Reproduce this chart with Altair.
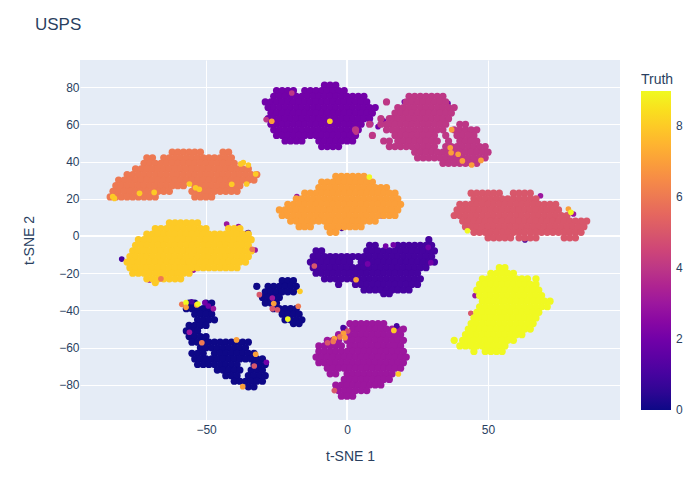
import altair as alt
import pandas as pd

PLASMA = ["#0d0887", "#46039f", "#7201a8", "#9c179e", "#bd3786",
          "#d8576b", "#ed7953", "#fb9f3a", "#fdca26", "#f0f921"]
INK = "#2a3f5f"
FONT = "Liberation Sans"
X_TICKS = [-50, 0, 50]
Y_TICKS = [-80, -60, -40, -20, 0, 20, 40, 60, 80]
LEGEND_TICKS = [0, 2, 4, 6, 8]

# (y, [x, ...]) rows, one list per digit cluster
digit_0a = [
    (-36, [-56, -54, -50, -48]), (-39, [-57, -55, -53, -51, -49]), (-42, [-54, -52, -50, -48]),
    (-45, [-53, -51, -49, -47]), (-48, [-56, -54, -52, -50]), (-51, [-57, -55, -53]),
    (-54, [-56, -54, -52, -50]),
    (-57, [-55, -53, -51, -49, -47, -45, -43, -41, -39, -37, -35]),
    (-60, [-52, -50, -48, -46, -44, -42, -40, -38, -36]),
    (-63, [-55, -53, -51, -47, -45, -43, -41, -39, -37, -35, -33]),
    (-66, [-54, -52, -50, -48, -46, -44, -42, -40, -38, -36, -34, -32, -30]),
    (-69, [-53, -51, -49, -47, -45, -43, -41, -39, -33, -31, -29]),
    (-72, [-46, -44, -42, -40, -38, -34, -32, -30]),
    (-75, [-43, -41, -39, -35, -33, -31, -29]),
    (-78, [-40, -38, -36, -34, -32, -30]),
    (-81, [-35, -33]),
]
digit_0b = [
    (-24, [-23, -21, -19]),
    (-27, [-32, -28, -26, -24, -22, -20, -18]),
    (-30, [-29, -27, -25, -23, -21, -19]),
    (-33, [-30, -28, -26, -24]),
    (-36, [-29, -27, -25]),
    (-39, [-26, -24, -22, -20, -18]),
    (-42, [-23, -21, -19, -17]),
    (-45, [-22, -20, -18, -16]),
    (-47, [-19, -17]),
]
digit_1 = [
    (-2, [29]),
    (-5, [8, 10, 18, 20, 22, 24, 26, 28, 30]),
    (-8, [-11, -9, 7, 9, 11, 13, 15, 17, 19, 21, 23, 25, 27, 29, 31]),
    (-11, [-12, -10, -8, -6, -4, -2, 0, 2, 4, 6, 8, 10, 12, 14, 16, 18, 20, 22, 24, 26, 28, 30]),
    (-14, [-13, -11, -9, -7, -5, -3, -1, 1, 5, 7, 9, 11, 13, 15, 17, 19, 21, 23, 25, 27, 29, 31]),
    (-17, [-12, -10, -8, -6, -4, -2, 0, 2, 4, 6, 8, 10, 12, 14, 16, 18, 20, 22, 24, 26, 28]),
    (-20, [-11, -9, -7, -5, -3, -1, 1, 3, 5, 7, 9, 11, 13, 15, 17, 19, 21, 23, 25]),
    (-23, [-8, -6, -4, -2, 0, 2, 4, 6, 8, 10, 12, 14, 16, 18, 20, 22, 24, 26]),
    (-26, [-3, 3, 5, 7, 9, 11, 13, 15, 17, 19, 21, 23, 25]),
    (-29, [6, 8, 10, 12, 14, 16, 18, 20, 22]),
    (-31, [13, 15]),
]
digit_2 = [
    (81, [-8, -6, -4]),
    (78, [-25, -23, -21, -19, -15, -13, -11, -9, -7, -5, -3, -1]),
    (75, [-26, -24, -22, -20, -18, -16, -14, -12, -10, -8, -6, -4, -2, 0, 2, 4, 6]),
    (72, [-29, -27, -25, -23, -21, -19, -17, -15, -13, -11, -9, -7, -5, -3, -1, 1, 3, 5, 7]),
    (69, [-28, -26, -24, -22, -20, -18, -16, -14, -12, -10, -8, -6, -4, -2, 0, 2, 4, 6, 8, 10]),
    (66, [-27, -25, -23, -21, -19, -17, -15, -13, -11, -9, -7, -5, -3, -1, 1, 3, 5, 7, 9]),
    (63, [-28, -26, -24, -22, -20, -18, -16, -14, -12, -10, -8, -6, -4, -2, 0, 2, 4, 6, 8]),
    (60, [-27, -25, -23, -21, -19, -17, -15, -13, -11, -9, -7, -5, -3, -1, 1, 3, 5]),
    (57, [-26, -24, -22, -20, -18, -16, -14, -12, -10, -8, -6, -4, -2, 0, 2, 4]),
    (54, [-25, -23, -21, -19, -17, -15, -13, -11, -9, -7, -5, -3, -1, 1, 3]),
    (51, [-22, -20, -18, -16, -10, -8, -6, -4, -2, 0, 2]),
    (48, [-9, -7, -5, -3]),
]
digit_3 = [
    (-47, [1, 3, 5, 7, 9, 11, 13]),
    (-50, [-1, 2, 4, 6, 8, 10, 12, 14, 16, 18, 20]),
    (-53, [-3, 1, 3, 5, 7, 9, 11, 13, 15, 17, 19]),
    (-56, [-7, -5, -3, 0, 2, 4, 6, 8, 10, 12, 14, 16, 18, 20]),
    (-59, [-10, -8, -6, -4, -2, 1, 3, 5, 7, 9, 11, 13, 15, 17, 19]),
    (-62, [-10, -8, -6, -4, -2, 0, 2, 4, 6, 8, 10, 12, 14, 16, 18, 20]),
    (-65, [-11, -9, -7, -5, -3, -1, 1, 3, 5, 7, 9, 11, 13, 15, 17, 19, 21]),
    (-68, [-10, -8, -6, -4, -2, 0, 2, 4, 6, 8, 10, 12, 14, 16, 18, 20]),
    (-71, [-7, -5, -3, -1, 1, 3, 5, 7, 9, 11, 13, 15, 17, 19]),
    (-74, [-6, -4, 0, 2, 4, 6, 8, 10, 12, 14, 16]),
    (-77, [-1, 1, 3, 5, 7, 9, 11, 13, 15]),
    (-80, [-4, -2, 0, 2, 4, 6, 8, 10, 12]),
    (-83, [-3, -1, 1, 3, 5, 7]),
    (-86, [-2, 0, 2]),
]
digit_4 = [
    (75, [22, 24, 26, 28, 30, 32, 34]),
    (72, [14, 21, 23, 25, 27, 29, 31, 33, 35]),
    (69, [18, 20, 22, 24, 26, 28, 30, 32, 34, 36, 38]),
    (66, [17, 19, 21, 23, 25, 27, 29, 31, 33, 35, 37]),
    (63, [12, 15, 16, 18, 20, 22, 24, 26, 28, 30, 32, 34, 36]),
    (60, [8, 12, 14, 15, 17, 19, 21, 23, 25, 27, 29, 31, 33, 35, 40, 42]),
    (57, [3, 14, 16, 18, 20, 22, 24, 26, 28, 30, 32, 34, 38, 40, 42, 44, 46]),
    (54, [9, 17, 19, 21, 23, 25, 27, 29, 31, 35, 39, 41, 43, 45]),
    (51, [13, 15, 18, 20, 22, 24, 26, 28, 30, 32, 36, 40, 42, 44, 46]),
    (48, [15, 17, 19, 21, 23, 25, 27, 29, 31, 35, 37, 39, 41, 43, 45, 47, 49]),
    (45, [24, 26, 28, 30, 32, 34, 36, 38, 40, 42, 44, 46, 48, 50]),
    (42, [25, 27, 29, 31, 33, 35, 37, 39, 41, 43, 45, 47, 49]),
    (39, [34, 36, 38, 40, 42, 44, 46]),
]
digit_5 = [
    (23, [44, 46, 48, 50, 52, 54, 59, 61, 63, 65]),
    (20, [45, 47, 49, 51, 53, 55, 57, 59, 61, 63, 65, 67]),
    (17, [40, 42, 44, 46, 48, 50, 52, 54, 56, 58, 60, 62, 64, 66, 68, 70, 72, 74]),
    (14, [39, 41, 43, 45, 47, 49, 51, 53, 55, 57, 59, 61, 63, 65, 67, 69, 71, 73, 75]),
    (11, [38, 40, 42, 44, 46, 48, 50, 52, 54, 56, 58, 60, 62, 64, 66, 68, 70, 72, 74, 76, 78]),
    (8, [41, 43, 45, 47, 49, 51, 53, 55, 57, 59, 61, 63, 65, 67, 69, 71, 73, 75, 77, 79, 81, 83, 85]),
    (5, [42, 44, 46, 48, 50, 52, 54, 56, 58, 60, 62, 64, 66, 68, 70, 72, 74, 76, 78, 80, 82, 84]),
    (2, [45, 47, 49, 51, 53, 55, 57, 59, 61, 63, 65, 67, 69, 71, 73, 75, 77, 79, 81, 83]),
    (-1, [50, 52, 54, 56, 58, 61, 63, 65, 67, 77, 79, 81]),
]
digit_6 = [
    (45, [-62, -60, -58, -56, -54, -52, -44, -42]),
    (42, [-71, -69, -65, -63, -61, -59, -57, -55, -53, -51, -49, -47, -45, -43, -41]),
    (39, [-72, -70, -68, -66, -64, -62, -60, -58, -56, -54, -52, -50, -48, -46, -44, -42, -40]),
    (36, [-75, -73, -71, -69, -67, -65, -63, -61, -59, -57, -55, -53, -51, -49, -47, -45, -43, -41, -39, -37, -35]),
    (33, [-78, -76, -74, -72, -70, -68, -66, -64, -62, -60, -58, -56, -54, -52, -50, -48, -46, -44, -42, -40, -38, -36, -34, -32]),
    (30, [-81, -79, -77, -75, -73, -71, -69, -67, -65, -63, -61, -59, -57, -55, -53, -51, -49, -47, -45, -43, -41, -39, -37, -35, -33]),
    (27, [-82, -80, -78, -76, -74, -72, -70, -68, -66, -64, -62, -60, -58, -54, -52, -50, -48, -46, -44, -42, -40, -38]),
    (24, [-83, -81, -79, -77, -75, -73, -71, -69, -67, -65, -63, -55, -53, -51, -49, -47, -45, -43, -41, -39]),
    (21, [-84, -82, -80, -78, -76, -74, -72, -70, -68, -54, -52, -50, -48]),
]
digit_7 = [
    (32, [-4, -2, 0, 2, 4, 6]),
    (29, [-9, -7, -5, -3, -1, 1, 3, 5, 7, 9]),
    (26, [-10, -8, -6, -4, -2, 0, 2, 4, 6, 8, 10, 12, 14]),
    (23, [-15, -13, -11, -9, -7, -5, -3, -1, 1, 3, 5, 7, 9, 11, 13, 15, 17]),
    (20, [-18, -16, -14, -12, -10, -8, -6, -4, -2, 0, 2, 4, 6, 8, 10, 12, 14, 16, 18]),
    (17, [-21, -19, -17, -15, -13, -11, -9, -7, -5, -3, -1, 1, 3, 5, 7, 9, 11, 13, 15, 17, 19]),
    (14, [-24, -22, -20, -18, -16, -14, -12, -10, -8, -6, -4, -2, 0, 2, 4, 6, 8, 10, 12, 14, 16, 18]),
    (11, [-23, -21, -19, -17, -15, -13, -11, -9, -7, -5, -3, -1, 1, 3, 5, 7, 9, 11, 13, 15, 17]),
    (8, [-20, -18, -16, -14, -12, -10, -8, -6, -4, -2, 0, 2, 4, 6, 8, 10]),
    (5, [-17, -15, -13, -7, -5, -3, -1, 1, 3, 5]),
    (2, [-6, -4]),
]
digit_8 = [
    (7, [-63, -61, -59, -57, -55, -53]),
    (4, [-68, -66, -64, -62, -60, -58, -56, -54, -52, -50, -42, -40, -38]),
    (1, [-71, -69, -67, -65, -63, -61, -59, -57, -55, -53, -51, -49, -47, -45, -43, -41, -39, -37, -35]),
    (-2, [-74, -72, -70, -68, -66, -64, -62, -60, -58, -56, -54, -52, -50, -48, -46, -44, -42, -40, -38, -36, -34]),
    (-5, [-75, -73, -71, -69, -67, -65, -63, -61, -59, -57, -55, -53, -51, -49, -47, -45, -43, -41, -39, -37, -35]),
    (-8, [-76, -74, -72, -70, -68, -66, -64, -62, -60, -58, -56, -54, -52, -50, -48, -46, -44, -42, -40, -38, -36, -34]),
    (-11, [-77, -75, -73, -71, -69, -67, -65, -63, -61, -59, -57, -55, -53, -51, -49, -47, -45, -43, -41, -39, -37, -35]),
    (-14, [-78, -76, -74, -72, -70, -68, -66, -64, -62, -60, -58, -56, -54, -52, -50, -48, -46, -44, -42, -40, -38, -36]),
    (-17, [-77, -75, -73, -71, -69, -67, -65, -63, -61, -59, -57, -55, -53, -51, -49, -47, -45, -43, -41, -39]),
    (-20, [-76, -74, -72, -70, -68, -66, -64, -62, -60, -58, -56]),
    (-23, [-71, -69, -67, -65, -63, -61, -59]),
    (-25, [-68]),
]
digit_9 = [
    (-17, [54, 56]),
    (-20, [51, 53, 55, 57, 59]),
    (-23, [48, 50, 52, 54, 56, 58, 60, 62, 64, 67]),
    (-26, [47, 49, 51, 53, 55, 57, 59, 61, 63, 65, 67]),
    (-29, [46, 48, 50, 52, 54, 56, 58, 60, 62, 64, 66, 68]),
    (-32, [47, 49, 51, 53, 55, 57, 59, 61, 63, 65, 67, 69]),
    (-35, [48, 50, 52, 54, 56, 58, 60, 62, 64, 66, 68, 70, 72]),
    (-38, [47, 49, 51, 53, 55, 57, 59, 61, 63, 65, 67, 69, 71]),
    (-41, [46, 48, 50, 52, 54, 56, 58, 60, 62, 64, 66, 68]),
    (-44, [45, 47, 49, 51, 53, 55, 57, 59, 61, 63, 65, 67]),
    (-47, [44, 46, 48, 50, 52, 54, 56, 58, 60, 62, 64, 66]),
    (-50, [43, 45, 47, 49, 51, 53, 55, 57, 59, 61, 63, 65]),
    (-53, [42, 44, 46, 48, 50, 52, 54, 56, 58, 60, 62]),
    (-56, [38, 41, 43, 45, 47, 49, 51, 53, 55, 57, 59]),
    (-59, [40, 42, 44, 46, 48, 50, 52, 54, 56]),
    (-62, [45, 49, 51, 53, 55]),
]

# stray points: x, y, truth. Those in under_* sit beneath the clusters
under_x = [35.8, 20.3, 12.9, 11.0, 68.6, 80.3, 63.1, 15.8, 12.3, -17.8, -1.9, -42.7, -38.5, -35.0, -79.9,
           -56.6, -54.5, -70.1, -32.6, -35.6, 45.4, 43.9, 8.4]
under_y = [71.2, 72.1, 61.9, 58.7, 21.6, 11.8, -2.1, 13.4, 10.9, 21.1, 4.1, 6.4, 5.0, 1.8, -12.4,
           -14.3, -18.3, -23.6, -7.5, 1.4, -32.0, -41.5, 60.2]
under_t = [2, 2, 2, 2, 3, 3, 1, 2, 2, 3, 1, 3, 3, 1, 1,
           3, 3, 3, 3, 1, 3, 5, 2]

stray_x = [-83.1, -82.5, -73.6, -68.4, -55.9, -53.7, -52.4, -40.9, -35.6, -32.4, -37.7, -36.8, -35.0,
           -19.6, -28.7, -26.7, -6.1, 3.2,
           37.1, 36.6, 36.9, 39.4, 40.9, 44.2, 47.5,
           78.5, 79.4, 42.7, 7.9, -66.0, -33.6,
           -58.6, -57.1, -57.1, -55.1, -53.3, -52.9, -50.4, -49.2, -47.4, -55.9, -51.5, -39.2, -32.4, -28.6, -32.9, -37.0,
           -31.1, -26.5, -26.0, -26.5, -24.7, -16.7, -17.3, -21.0,
           -11.6, 3.2, 7.3, 13.7, 16.4, 28.8, 29.7,
           -1.4, 0.2, -1.3, -2.5, -0.7, -4.5, -4.9, -6.9, -4.5, 17.6, 16.6, 18.2]
stray_y = [21.1, 20.2, 22.9, 23.4, 27.9, 25.9, 25.1, 27.8, 27.9, 33.3, 38.7, 39.4, 38.1,
           76.8, 62.5, 61.6, 61.6, 55.8,
           57.1, 47.4, 44.7, 43.9, 40.3, 38.1, 40.6,
           14.5, 12.7, 2.8, 31.7, -23.0, -7.1,
           -36.7, -35.8, -38.3, -35.3, -37.0, -36.5, -35.8, -37.6, -39.0, -51.7, -57.3, -55.8, -63.5, -67.8, -69.8, -80.9,
           -31.5, -33.3, -36.3, -39.0, -39.6, -29.7, -37.7, -44.6,
           -16.1, -23.5, -15.0, -5.4, -4.8, -6.1, -14.3,
           -49.2, -51.0, -52.3, -54.2, -54.6, -55.1, -56.6, -57.3, -83.0, -48.3, -50.7, -74.1]
stray_t = [8, 8, 8, 8, 8, 8, 8, 8, 8, 8, 8, 8, 8,
           4, 4, 7, 8, 4,
           7, 7, 7, 7, 7, 7, 7,
           7, 9, 9, 9, 6, 6,
           6, 9, 7, 1, 7, 9, 2, 2, 3, 3, 6, 7, 7, 2, 5, 7,
           5, 3, 7, 5, 5, 8, 6, 9,
           5, 7, 2, 2, 2, 2, 2,
           1, 5, 7, 6, 7, 7, 6, 5, 5, 1, 8, 8]

clusters = [(0, digit_0a), (0, digit_0b), (1, digit_1), (2, digit_2), (3, digit_3),
            (4, digit_4), (5, digit_5), (6, digit_6), (7, digit_7), (8, digit_8), (9, digit_9)]

core = []
for truth, rows in clusters:
    for y, xs in rows:
        core += [{"x": x, "y": y, "t": truth} for x in xs]
df_core = pd.DataFrame(core)
df_under = pd.DataFrame({"x": under_x, "y": under_y, "t": under_t})
df_stray = pd.DataFrame({"x": stray_x, "y": stray_y, "t": stray_t})

x_scale = alt.Scale(domain=[-94.7, 96.8], nice=False, zero=False)
y_scale = alt.Scale(domain=[-98.8, 94.5], nice=False, zero=False)

zero_v = alt.Chart(pd.DataFrame({"x": [0]})).mark_rule(color="white", size=2).encode(
    x=alt.X("x:Q", scale=x_scale))
zero_h = alt.Chart(pd.DataFrame({"y": [0]})).mark_rule(color="white", size=2).encode(
    y=alt.Y("y:Q", scale=y_scale))

encoding = dict(
    x=alt.X("x:Q", scale=x_scale, title="t-SNE 1",
            axis=alt.Axis(values=X_TICKS, grid=True, gridColor="white", gridWidth=1, domain=False,
                          ticks=False, labelPadding=4, labelFontSize=12, labelColor=INK, labelFont=FONT,
                          titleFontSize=14, titleColor=INK, titleFont=FONT, titleFontWeight="normal",
                          titlePadding=14)),
    y=alt.Y("y:Q", scale=y_scale, title="t-SNE 2",
            axis=alt.Axis(values=Y_TICKS, grid=True, gridColor="white", gridWidth=1, domain=False,
                          ticks=False, labelPadding=1, labelFontSize=12, labelColor=INK, labelFont=FONT,
                          titleFontSize=14, titleColor=INK, titleFont=FONT, titleFontWeight="normal",
                          titlePadding=22)),
    color=alt.Color("t:Q",
                    scale=alt.Scale(domain=[-0.01, 1, 2, 3, 4, 5, 6, 7, 8, 9], range=PLASMA),
                    legend=alt.Legend(title="Truth", orient="none", legendX=561, legendY=13,
                                      gradientLength=319, gradientThickness=30, values=LEGEND_TICKS,
                                      gradientStrokeWidth=0, labelFontSize=12, labelColor=INK, labelFont=FONT,
                                      labelBaseline="middle", labelOffset=5, labelOverlap=False,
                                      titleFontSize=14, titleColor=INK, titleFont=FONT,
                                      titleFontWeight="normal", titlePadding=4)),
)

under = alt.Chart(df_under).mark_circle(size=32, opacity=1).encode(**encoding)
body = alt.Chart(df_core).mark_circle(size=52, opacity=1).encode(**encoding)
stray = alt.Chart(df_stray).mark_circle(size=32, opacity=1).encode(**encoding)

chart = alt.layer(zero_v, zero_h, under, body, stray).properties(
    width=540, height=360,
    title=alt.TitleParams("USPS", anchor="start", frame="group", fontSize=17, font=FONT, color=INK,
                          fontWeight="normal", dx=-45, offset=25),
    autosize=alt.AutoSizeParams(type="none"),
    padding={"left": 72, "top": 52, "right": 72, "bottom": 72},
    background="white",
).configure_view(fill="#E5ECF6", stroke=None)

chart.save("out.html", embed_options={"renderer": "svg", "actions": False})
